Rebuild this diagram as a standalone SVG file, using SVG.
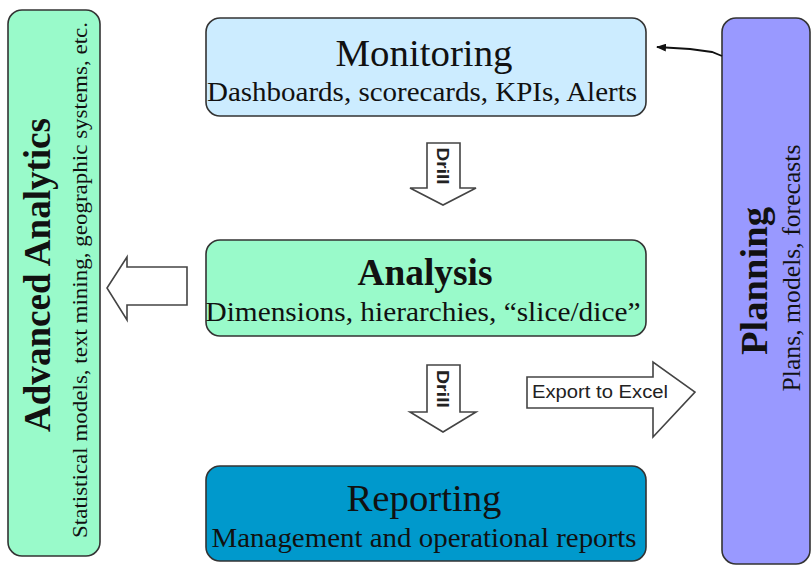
<svg xmlns="http://www.w3.org/2000/svg" width="812" height="569" viewBox="0 0 812 569">
<style>
.box{stroke:#333;stroke-width:1.6}
.t{font-family:"Liberation Serif","Times New Roman",serif;fill:#111}
.title{font-size:38px}
.b{font-weight:bold}
.sub{font-size:27px}
.blk{fill:#fff;stroke:#444;stroke-width:1.6;stroke-linejoin:miter}
.s{font-family:"Liberation Sans",Arial,sans-serif;fill:#222}
</style>
<defs>
<marker id="ah" markerWidth="10" markerHeight="8" refX="9" refY="4" orient="auto" markerUnits="userSpaceOnUse">
<path d="M0,0 L10,4 L0,8 Z" fill="#111"/>
</marker>
</defs>
<rect width="812" height="569" fill="#fff"/>

<g id="advanced-analytics">
<rect class="box" x="8" y="10" width="92" height="546" rx="14" fill="#99FACA"/>
<text class="t b" font-size="37" transform="translate(50,275) rotate(-90)" text-anchor="middle" textLength="314" lengthAdjust="spacingAndGlyphs">Advanced Analytics</text>
<text class="t" font-size="20" transform="translate(87,280) rotate(-90)" text-anchor="middle" textLength="516" lengthAdjust="spacingAndGlyphs">Statistical models, text mining, geographic systems, etc.</text>
</g>

<g id="planning">
<rect class="box" x="722" y="18" width="88" height="546" rx="14" fill="#9999FF"/>
<text class="t b" font-size="38" transform="translate(767,281) rotate(-90)" text-anchor="middle" textLength="148" lengthAdjust="spacingAndGlyphs">Planning</text>
<text class="t" font-size="26" transform="translate(800,268) rotate(-90)" text-anchor="middle" textLength="247" lengthAdjust="spacingAndGlyphs">Plans, models, forecasts</text>
</g>

<g id="monitoring">
<rect class="box" x="206" y="18" width="440" height="98" rx="14" fill="#CCECFF"/>
<text class="t title" x="424" y="66" text-anchor="middle" textLength="177" lengthAdjust="spacingAndGlyphs">Monitoring</text>
<text class="t sub" x="422" y="101" text-anchor="middle" textLength="430" lengthAdjust="spacingAndGlyphs">Dashboards, scorecards, KPIs, Alerts</text>
</g>

<g id="analysis">
<rect class="box" x="206" y="240" width="440" height="96" rx="14" fill="#99FACA"/>
<text class="t title b" x="425" y="285" text-anchor="middle" textLength="135" lengthAdjust="spacingAndGlyphs">Analysis</text>
<text class="t sub" x="423" y="321" text-anchor="middle" textLength="435" lengthAdjust="spacingAndGlyphs">Dimensions, hierarchies, “slice/dice”</text>
</g>

<g id="reporting">
<rect class="box" x="206" y="466" width="440" height="95" rx="14" fill="#0099CC"/>
<text class="t title" x="424" y="511" text-anchor="middle" textLength="155" lengthAdjust="spacingAndGlyphs">Reporting</text>
<text class="t sub" x="424" y="547" text-anchor="middle" textLength="425" lengthAdjust="spacingAndGlyphs">Management and operational reports</text>
</g>

<g id="connectors">
<path d="M722,56 L712,52 L690,49 L657,47" fill="none" stroke="#111" stroke-width="1.8" marker-end="url(#ah)"/>
<polygon class="blk" points="427,143 460,143 460,188 476,188 443,205 410,188 427,188"/>
<text class="s b" font-size="17" transform="translate(437,166) rotate(90)" text-anchor="middle" textLength="37" lengthAdjust="spacingAndGlyphs">Drill</text>
<polygon class="blk" points="427,365 460,365 460,412 476,412 443,432 410,412 427,412"/>
<text class="s b" font-size="17" transform="translate(437,389) rotate(90)" text-anchor="middle" textLength="38" lengthAdjust="spacingAndGlyphs">Drill</text>
<polygon class="blk" points="187,267 187,305 127,305 127,320 107,288 127,257 127,267"/>
<polygon class="blk" points="527,377 653,377 653,362 695,392 653,437 653,408 527,408"/>
<text class="s" font-size="18" x="532" y="398" textLength="136" lengthAdjust="spacingAndGlyphs">Export to Excel</text>
</g>
</svg>
